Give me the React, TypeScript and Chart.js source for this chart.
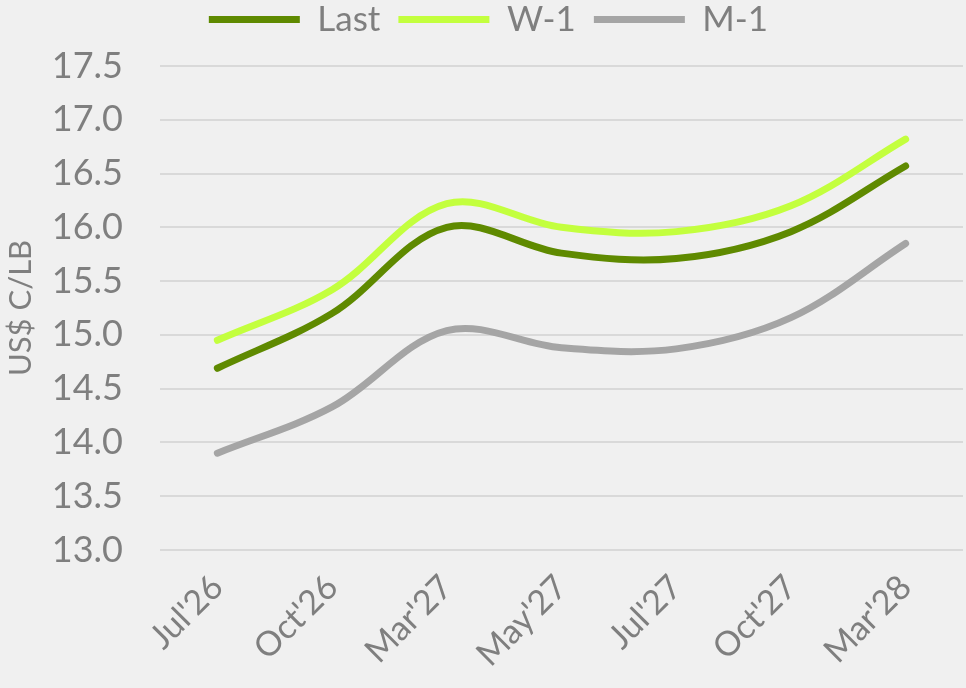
import React, { useEffect, useRef } from "react";
import { Chart, registerables } from "chart.js";

Chart.register(...registerables);

const categories = ["Jul'26", "Oct'26", "Mar'27", "May'27", "Jul'27", "Oct'27", "Mar'28"];
const lastValues = [14.69, 15.2, 16.0, 15.76, 15.71, 15.96, 16.57];
const w1Values = [14.95, 15.42, 16.22, 16.0, 15.96, 16.2, 16.82];
const m1Values = [13.9, 14.33, 15.04, 14.88, 14.87, 15.16, 15.85];
const yMin = 13.0;
const yMax = 17.5;
const yStep = 0.5;

const FONT = "Lato, 'Open Sans', sans-serif";
const TEXT = "#7f7f7f";

const legendPlacement = {
  id: "legendPlacement",
  beforeInit(chart: any) {
    const legend = chart.legend;
    if (!legend) return;
    const orig = legend.fit;
    legend.fit = function () {
      orig.call(this);
      this.height = 66;
    };
  },
  afterLayout(chart: any) {
    const legend = chart.legend;
    if (!legend) return;
    legend.top -= 16;
    legend.bottom -= 16;
    legend.left += 7;
    legend.right += 7;
  },
};

export default function App() {
  const ref = useRef<HTMLCanvasElement | null>(null);
  useEffect(() => {
    document.body.style.margin = "0";
    document.body.style.background = "#f0f0f0";
    const ctx = ref.current!;
    const mk = (label: string, data: number[], color: string) => ({
      label,
      data,
      borderColor: color,
      backgroundColor: color,
      borderWidth: 7,
      borderCapStyle: "round" as const,
      pointRadius: 0,
      pointStyle: "line" as const,
      tension: 0.35,
      fill: false,
    });
    const chart = new Chart(ctx, {
      type: "line",
      data: {
        labels: categories,
        datasets: [
          mk("Last", lastValues, "#5f8a00"),
          mk("W-1", w1Values, "#c3ff3e"),
          mk("M-1", m1Values, "#a5a5a5"),
        ],
      },
      plugins: [legendPlacement],
      options: {
        animation: false,
        responsive: false,
        maintainAspectRatio: false,
        layout: { padding: { left: 0, right: 3, top: 0, bottom: 0 } },
        plugins: {
          tooltip: { enabled: false },
          legend: {
            position: "top",
            labels: {
              usePointStyle: true,
              pointStyleWidth: 91,
              boxHeight: 7,
              color: TEXT,
              font: { family: FONT, size: 35 },
              padding: 18,
            },
          },
        },
        scales: {
          x: {
            offset: true,
            grid: { display: false },
            border: { display: false },
            afterFit: (s: any) => {
              s.height = 138;
            },
            ticks: {
              color: TEXT,
              font: { family: FONT, size: 34 },
              minRotation: 45,
              maxRotation: 45,
              padding: 9,
            },
          },
          y: {
            min: yMin,
            max: yMax,
            grid: { color: "#d9d9d9", lineWidth: 2, drawTicks: false },
            border: { display: false },
            afterFit: (s: any) => {
              s.width = 160;
            },
            ticks: {
              stepSize: yStep,
              color: TEXT,
              font: { family: FONT, size: 36 },
              padding: 37,
              callback: (v: any) => Number(v).toFixed(1),
            },
            title: {
              display: true,
              text: "US$ C/LB",
              color: TEXT,
              font: { family: FONT, size: 31 },
              padding: 2,
            },
          },
        },
      },
    });
    return () => chart.destroy();
  }, []);
  return (
    <div style={{ position: "fixed", left: 0, top: 0, width: 966, height: 688, background: "#f0f0f0" }}>
      <canvas ref={ref} width={966} height={688} style={{ width: 966, height: 688, display: "block" }} />
    </div>
  );
}
